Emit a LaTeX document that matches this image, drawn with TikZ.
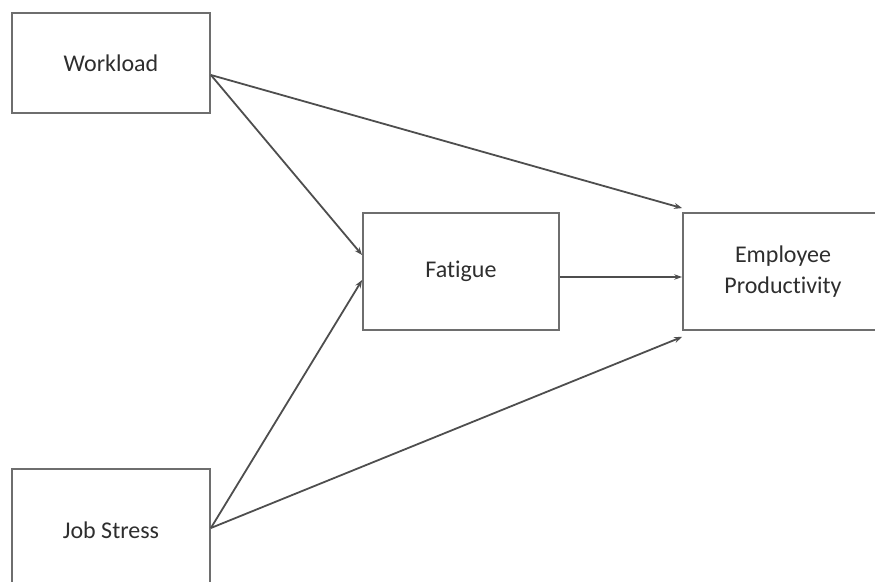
\documentclass[tikz,border=0pt]{standalone}
\usepackage{fontspec}
\setmainfont{Carlito}[Ligatures={NoCommon}]
\usetikzlibrary{arrows.meta}
\definecolor{boxline}{HTML}{6E6E6E}
\definecolor{arrline}{HTML}{4E4E4E}
\definecolor{txt}{HTML}{2E2E2E}
\tikzset{
  box/.style={draw=boxline, line width=1.8pt, rectangle, inner sep=0pt, text=txt,
    font=\fontsize{24}{31}\selectfont, align=center},
  conn/.style={draw=arrline, line width=1.8pt, -{Stealth[length=8pt,width=6pt]}},
  connthin/.style={draw=arrline, line width=1.2pt, -{Stealth[length=8pt,width=5.5pt]}}
}
\begin{document}
\begin{tikzpicture}[x=1pt,y=-1pt]
\useasboundingbox (0,0) rectangle (875,581);
\clip (0,0) rectangle (875,581);
\node[box, minimum width=198pt, minimum height=100pt] (wl) at (111,63) {Workload};
\node[box, minimum width=196pt, minimum height=117pt] (fa) at (461,271.5) {Fatigue};
\node[box, minimum width=200pt, minimum height=117pt] (ep) at (783,271.5) {Employee\\Productivity};
\node[box, minimum width=198pt, minimum height=122pt] (js) at (111,530) {Job Stress};
\draw[conn] ([yshift=-12pt]wl.east) -- ([yshift=16.5pt]fa.west);
\draw[conn] ([yshift=-12pt]wl.east) -- ([yshift=4pt]ep.north west);
\draw[conn] ([yshift=2pt]js.east) -- ([yshift=-8.5pt]fa.west);
\draw[conn] ([yshift=2pt]js.east) -- ([yshift=-6pt]ep.south west);
\draw[connthin] ([yshift=-5.5pt]fa.east) -- ([yshift=-5.5pt]ep.west);
\end{tikzpicture}
\end{document}
